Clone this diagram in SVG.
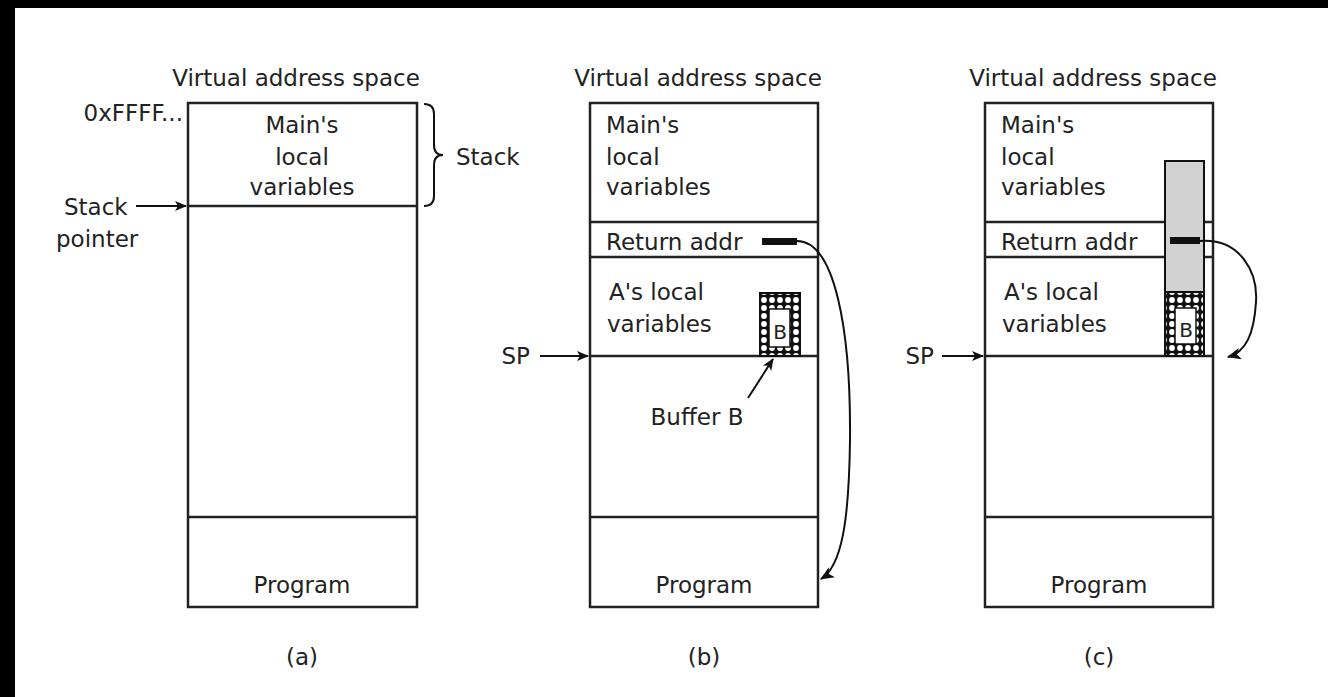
<svg xmlns="http://www.w3.org/2000/svg" width="1328" height="697" viewBox="0 0 1328 697">
<style>
text{font-family:"DejaVu Sans","Liberation Sans",sans-serif;font-size:23px;fill:#222}
.c{text-anchor:middle}
.r{text-anchor:end}
.box{fill:none;stroke:#222;stroke-width:2.5}
.ln{stroke:#222;stroke-width:2.5}
.thin{fill:none;stroke:#111;stroke-width:2}
.bar{fill:#111}
</style>
<defs>
<marker id="ah" viewBox="0 0 12 12" refX="11" refY="6" markerWidth="12" markerHeight="12" markerUnits="userSpaceOnUse" orient="auto">
<path d="M0,1 L12,6 L0,11 L3,6 Z" fill="#111"/>
</marker>
<marker id="ah2" viewBox="0 0 12 12" refX="11" refY="6" markerWidth="14" markerHeight="14" markerUnits="userSpaceOnUse" orient="auto">
<path d="M0,1 L12,6 L0,11 L3,6 Z" fill="#111"/>
</marker>
<pattern id="dots" width="8" height="8" patternUnits="userSpaceOnUse">
<rect width="8" height="8" fill="#111"/>
<circle cx="4" cy="4" r="2.9" fill="#fff"/>
</pattern>
</defs>
<rect x="0" y="0" width="1328" height="697" fill="#fff"/>
<rect x="0" y="0" width="15" height="697" fill="#000"/>
<rect x="0" y="0" width="1328" height="8" fill="#000"/>

<g id="panel-a">
<text class="c" x="296" y="86">Virtual address space</text>
<rect class="box" x="188" y="103" width="229" height="504"/>
<line class="ln" x1="188" y1="206" x2="417" y2="206"/>
<line class="ln" x1="188" y1="517" x2="417" y2="517"/>
<text class="c" x="302" y="133">Main's</text>
<text class="c" x="302" y="165">local</text>
<text class="c" x="302" y="195">variables</text>
<text class="c" x="302" y="593">Program</text>
<text class="c" x="302" y="665">(a)</text>
<text class="r" x="183" y="121">0xFFFF...</text>
<text x="64" y="215">Stack</text>
<text x="56" y="247">pointer</text>
<path class="thin" d="M424,104 Q434,104 434,114 L434,145 Q434,155 443,155 Q434,155 434,165 L434,196 Q434,206 424,206"/>
<text x="456" y="165">Stack</text>
</g>

<g id="panel-b">
<text class="c" x="698" y="86">Virtual address space</text>
<rect class="box" x="590" y="103" width="228" height="504"/>
<line class="ln" x1="590" y1="222" x2="818" y2="222"/>
<line class="ln" x1="590" y1="257" x2="818" y2="257"/>
<line class="ln" x1="590" y1="356" x2="818" y2="356"/>
<line class="ln" x1="590" y1="517" x2="818" y2="517"/>
<text x="606" y="133">Main's</text>
<text x="606" y="165">local</text>
<text x="606" y="195">variables</text>
<text x="606" y="250">Return addr</text>
<rect class="bar" x="762" y="238" width="35" height="7"/>
<text x="609" y="300">A's local</text>
<text x="607" y="332">variables</text>
<g id="buffer-b">
<rect x="760" y="293" width="40" height="63" fill="url(#dots)" stroke="#111" stroke-width="2"/>
<rect x="769" y="309" width="21" height="38" fill="#fff" stroke="#111" stroke-width="1.5"/>
<text class="c" x="780" y="339" style="font-size:20px">B</text>
</g>
<text class="c" x="697" y="425">Buffer B</text>
<text class="r" x="530" y="364">SP</text>
<text class="c" x="704" y="665">(b)</text>
<text class="c" x="704" y="593">Program</text>
</g>

<g id="panel-c">
<text class="c" x="1093" y="86">Virtual address space</text>
<rect class="box" x="985" y="103" width="228" height="504"/>
<line class="ln" x1="985" y1="222" x2="1213" y2="222"/>
<line class="ln" x1="985" y1="257" x2="1213" y2="257"/>
<line class="ln" x1="985" y1="356" x2="1213" y2="356"/>
<line class="ln" x1="985" y1="517" x2="1213" y2="517"/>
<text x="1001" y="133">Main's</text>
<text x="1001" y="165">local</text>
<text x="1001" y="195">variables</text>
<text x="1001" y="250">Return addr</text>
<text x="1004" y="300">A's local</text>
<text x="1002" y="332">variables</text>
<g id="overflow-column">
<rect x="1165" y="161" width="39" height="131" fill="#d2d2d2" stroke="#111" stroke-width="2"/>
<rect x="1165" y="292" width="39" height="64" fill="url(#dots)" stroke="#111" stroke-width="2"/>
<rect x="1175" y="308" width="21" height="36" fill="#fff" stroke="#111" stroke-width="1.5"/>
<text class="c" x="1186" y="337" style="font-size:20px">B</text>
<rect class="bar" x="1170" y="237" width="30" height="7"/>
</g>
<text class="r" x="934" y="364">SP</text>
<text class="c" x="1099" y="665">(c)</text>
<text class="c" x="1099" y="593">Program</text>
</g>

<g id="connectors">
<line class="thin" x1="136" y1="206" x2="186" y2="206" marker-end="url(#ah)"/>
<line class="thin" x1="540" y1="356" x2="588" y2="356" marker-end="url(#ah)"/>
<line class="thin" x1="942" y1="356" x2="983" y2="356" marker-end="url(#ah)"/>
<line class="thin" x1="748" y1="398" x2="773" y2="359" marker-end="url(#ah)"/>
<path class="thin" d="M797,241 C835,241 851,330 850,440 C849,520 842,566 821,579" marker-end="url(#ah2)"/>
<path class="thin" d="M1200,241 C1240,238 1258,272 1256,302 C1254,334 1246,352 1228,357" marker-end="url(#ah2)"/>
</g>
</svg>
